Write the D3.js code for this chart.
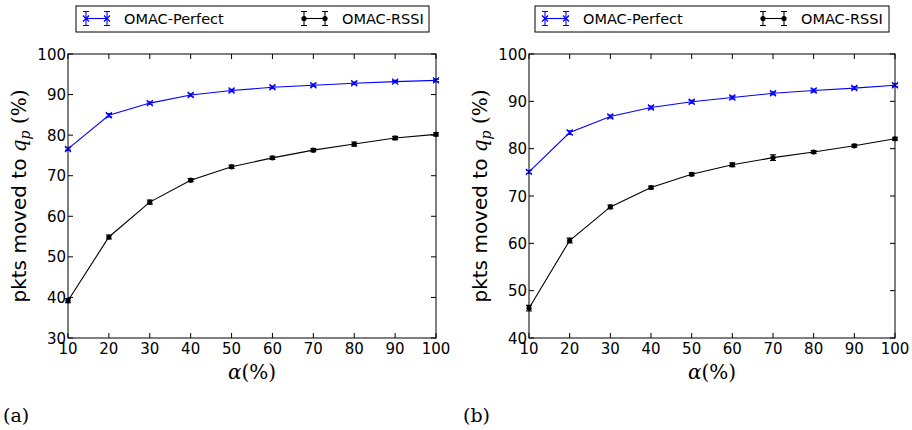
<!DOCTYPE html>
<html>
<head>
<meta charset="utf-8">
<script src="https://cdn.jsdelivr.net/npm/d3@7"></script>
<style>
  body { margin: 0; background: #fff; }
  text { font-family: "DejaVu Sans", sans-serif; }
  .math { font-family: "DejaVu Serif", "Liberation Serif", serif; }
</style>
</head>
<body>
<svg id="chart" width="912" height="430"></svg>
<script>
// x values shared by both panels
const alphaValues = [10, 20, 30, 40, 50, 60, 70, 80, 90, 100];

// panel (a)
const perfectA = [76.6, 84.9, 87.9, 89.9, 91.0, 91.8, 92.3, 92.8, 93.2, 93.5];
const perfectAErr = [0.3, 0.4, 0.3, 0.3, 0.3, 0.3, 0.3, 0.3, 0.3, 0.3];
const rssiA = [39.2, 54.9, 63.5, 68.9, 72.2, 74.4, 76.3, 77.8, 79.3, 80.2];
const rssiAErr = [0.5, 0.5, 0.5, 0.4, 0.4, 0.4, 0.4, 0.5, 0.4, 0.4];

// panel (b)
const perfectB = [75.1, 83.4, 86.8, 88.7, 89.9, 90.8, 91.7, 92.3, 92.8, 93.4];
const perfectBErr = [0.3, 0.4, 0.3, 0.3, 0.3, 0.3, 0.3, 0.3, 0.3, 0.3];
const rssiB = [46.3, 60.6, 67.7, 71.8, 74.6, 76.6, 78.1, 79.3, 80.6, 82.1];
const rssiBErr = [0.6, 0.5, 0.4, 0.3, 0.3, 0.4, 0.6, 0.3, 0.3, 0.3];

const xTicks = [10, 20, 30, 40, 50, 60, 70, 80, 90, 100];
const seriesNames = ['OMAC-Perfect', 'OMAC-RSSI'];
const seriesColors = ['#0000ff', '#000000'];

const panels = [
  { left: 68, right: 436, yDomain: [30, 100], yTicks: [30, 40, 50, 60, 70, 80, 90, 100],
    tag: '(a)', tagX: 3, legend: [76, 429],
    series: [[perfectA, perfectAErr], [rssiA, rssiAErr]] },
  { left: 529, right: 895, yDomain: [40, 100], yTicks: [40, 50, 60, 70, 80, 90, 100],
    tag: '(b)', tagX: 463, legend: [535, 889],
    series: [[perfectB, perfectBErr], [rssiB, rssiBErr]] }
];

const plotTop = 54, plotBottom = 338;
const svg = d3.select('#chart');

// marker drawing: 0 = 'x', 1 = small dot
function drawMarker(g, kind, cx, cy, color) {
  if (kind === 0) {
    const s = 3;
    g.append('path')
      .attr('d', `M${cx - s},${cy - s}L${cx + s},${cy + s}M${cx - s},${cy + s}L${cx + s},${cy - s}`)
      .attr('stroke', color).attr('stroke-width', 1.3).attr('fill', 'none');
  } else {
    g.append('circle').attr('cx', cx).attr('cy', cy).attr('r', 2.6).attr('fill', color);
  }
}

function drawErr(g, cx, y1, y2, color) {
  const c = 3;
  g.append('path')
    .attr('d', `M${cx},${y1}L${cx},${y2}M${cx - c},${y1}L${cx + c},${y1}M${cx - c},${y2}L${cx + c},${y2}`)
    .attr('stroke', color).attr('stroke-width', 1.1).attr('fill', 'none');
}

panels.forEach(p => {
  const x = d3.scaleLinear().domain([10, 100]).range([p.left, p.right]);
  const y = d3.scaleLinear().domain(p.yDomain).range([plotBottom, plotTop]);
  const g = svg.append('g');

  // series
  p.series.forEach(([vals, errs], si) => {
    const color = seriesColors[si];
    const line = d3.line().x((d, i) => x(alphaValues[i])).y(d => y(d));
    g.append('path').datum(vals).attr('d', line)
      .attr('fill', 'none').attr('stroke', color).attr('stroke-width', 1.1);
    vals.forEach((v, i) => {
      drawErr(g, x(alphaValues[i]), y(v + errs[i]), y(v - errs[i]), color);
      drawMarker(g, si, x(alphaValues[i]), y(v), color);
    });
  });

  // frame
  g.append('rect').attr('x', p.left).attr('y', plotTop)
    .attr('width', p.right - p.left).attr('height', plotBottom - plotTop)
    .attr('fill', 'none').attr('stroke', '#000').attr('stroke-width', 1);

  // inward ticks on all sides
  const tl = 5;
  xTicks.forEach(t => {
    g.append('line').attr('x1', x(t)).attr('x2', x(t)).attr('y1', plotBottom).attr('y2', plotBottom - tl).attr('stroke', '#000');
    g.append('line').attr('x1', x(t)).attr('x2', x(t)).attr('y1', plotTop).attr('y2', plotTop + tl).attr('stroke', '#000');
    g.append('text').attr('x', x(t)).attr('y', plotBottom + 16).attr('text-anchor', 'middle')
      .attr('font-size', 15).text(t);
  });
  p.yTicks.forEach(t => {
    g.append('line').attr('x1', p.left).attr('x2', p.left + tl).attr('y1', y(t)).attr('y2', y(t)).attr('stroke', '#000');
    g.append('line').attr('x1', p.right).attr('x2', p.right - tl).attr('y1', y(t)).attr('y2', y(t)).attr('stroke', '#000');
    g.append('text').attr('x', p.left - 2).attr('y', y(t) + 5.5).attr('text-anchor', 'end')
      .attr('font-size', 15).text(t);
  });

  // axis labels
  const xl = g.append('text').attr('class', 'math').attr('x', (p.left + p.right) / 2).attr('y', plotBottom + 41)
    .attr('text-anchor', 'middle').attr('font-size', 20);
  xl.append('tspan').attr('font-style', 'italic').text('α');
  xl.append('tspan').text('(%)');

  const yl = g.append('text').attr('transform', `translate(${p.left - 42},${(plotTop + plotBottom) / 2}) rotate(-90)`)
    .attr('text-anchor', 'middle').attr('font-size', 20);
  yl.append('tspan').text('pkts moved to ');
  yl.append('tspan').attr('class', 'math').attr('font-style', 'italic').text('q');
  yl.append('tspan').attr('class', 'math').attr('font-style', 'italic').attr('font-size', 14).attr('dy', 4).text('p');
  yl.append('tspan').attr('class', 'math').attr('dy', -4).text(' (%)');

  // panel tag
  svg.append('text').attr('class', 'math').attr('x', p.tagX).attr('y', 422)
    .attr('font-size', 19).text(p.tag);

  // legend
  const [lx0, lx1] = p.legend;
  const lg = svg.append('g');
  lg.append('rect').attr('x', lx0).attr('y', 6).attr('width', lx1 - lx0).attr('height', 26)
    .attr('fill', '#fff').attr('stroke', '#000').attr('stroke-width', 1);
  const legendPos = [lx0 + 10, lx0 + 228];
  seriesNames.forEach((name, si) => {
    const a = legendPos[si], b = a + 21, cy = 18.5;
    const color = seriesColors[si];
    lg.append('line').attr('x1', a).attr('x2', b).attr('y1', cy).attr('y2', cy)
      .attr('stroke', color).attr('stroke-width', 1.1);
    [a, b].forEach(px => {
      drawErr(lg, px, cy - 7, cy + 7, color);
      drawMarker(lg, si, px, cy, color);
    });
    lg.append('text').attr('x', b + 17).attr('y', cy + 5.5).attr('font-size', 14.5).text(name);
  });
});
</script>
</body>
</html>
